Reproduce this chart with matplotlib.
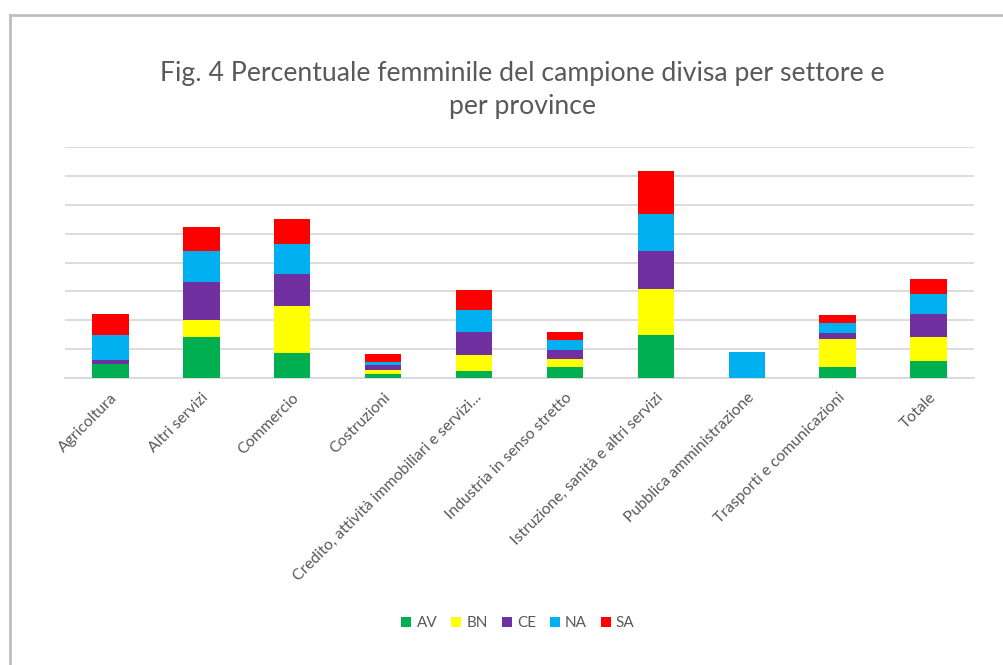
import numpy as np
import matplotlib
matplotlib.use("Agg")
from matplotlib import pyplot as plt
from matplotlib.lines import Line2D

# dati (unità = una linea della griglia)
settori = ["Agricoltura", "Altri servizi", "Commercio", "Costruzioni",
           "Credito, attività immobiliari e servizi...", "Industria in senso stretto",
           "Istruzione, sanità e altri servizi", "Pubblica amministrazione",
           "Trasporti e comunicazioni", "Totale"]
province = ["AV", "BN", "CE", "NA", "SA"]
AV = [0.49, 1.43, 0.85, 0.13, 0.23, 0.37, 1.49, 0.00, 0.37, 0.60]
BN = [0.00, 0.58, 1.64, 0.16, 0.58, 0.28, 1.59, 0.00, 0.97, 0.83]
CE = [0.15, 1.33, 1.11, 0.15, 0.78, 0.31, 1.31, 0.00, 0.21, 0.80]
NA = [0.84, 1.06, 1.05, 0.10, 0.78, 0.37, 1.31, 0.91, 0.36, 0.68]
SA = [0.74, 0.84, 0.85, 0.28, 0.69, 0.27, 1.48, 0.00, 0.28, 0.54]
colori = ["#00B050", "#FFFF00", "#7030A0", "#00B0F0", "#FF0000"]

plt.rcParams['font.family'] = ['Lato', 'DejaVu Sans']
grigio = "#595959"

fig = plt.figure(figsize=(10.04, 6.65), dpi=100)
ax = fig.add_axes([65/1004, 287/665, 909/1004, 230.7/665])

x = np.arange(len(settori))
base = np.zeros(len(settori))
for nome, valori, col in zip(province, [AV, BN, CE, NA, SA], colori):
    ax.bar(x, valori, width=0.4, bottom=base, color=col, label=nome, zorder=3)
    base = base + np.array(valori)

ax.set_xlim(-0.5, len(settori) - 0.5)
ax.set_ylim(0, 8)
ax.set_yticks(np.arange(0, 9, 1))
ax.set_yticklabels([])
ax.tick_params(axis="y", length=0)
ax.tick_params(axis="x", length=0, pad=9)
ax.grid(axis="y", color="#d9d9d9", linewidth=1.3, zorder=0)
for s in ["top", "right", "left"]:
    ax.spines[s].set_visible(False)
ax.spines["bottom"].set_color("#d9d9d9")
ax.spines["bottom"].set_linewidth(1.3)

ax.set_xticks(x)
ax.set_xticklabels(settori, rotation=45, ha="right", rotation_mode="anchor",
                   fontsize=11.3, color=grigio)

fig.text(0.52, 0.864, "Fig. 4 Percentuale femminile del campione divisa per settore e\nper province",
         ha="center", va="center", fontsize=19.2, color=grigio, linespacing=1.4)

leg = fig.legend(loc="center", bbox_to_anchor=(0.516, 0.063), ncol=5, frameon=False,
                 handlelength=0.65, handleheight=0.65, handletextpad=0.35,
                 columnspacing=0.9, fontsize=11)
for t in leg.get_texts():
    t.set_color(grigio)

# cornice del riquadro
fig.add_artist(Line2D([10/1004, 1], [1 - 15/665, 1 - 15/665], color="#bfbfbf", linewidth=2))
fig.add_artist(Line2D([10/1004, 10/1004], [0, 1 - 15/665], color="#bfbfbf", linewidth=2))

fig.savefig("out.png", dpi=100)
